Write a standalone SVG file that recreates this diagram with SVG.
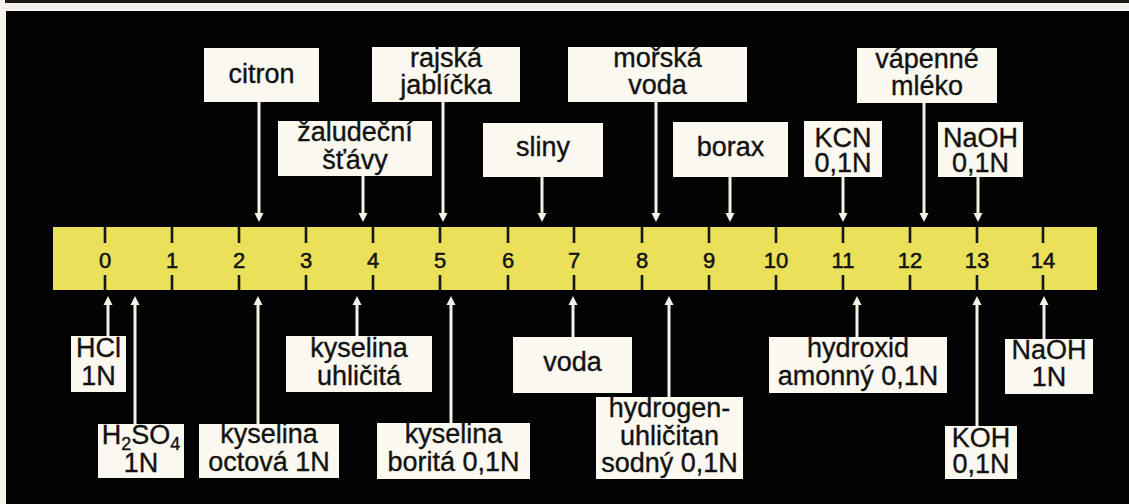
<svg xmlns="http://www.w3.org/2000/svg" width="1129" height="504" viewBox="0 0 1129 504">
  <style>
    .box { fill: #FBF8F0; }
    .lbl { font-family: "Liberation Sans", Arial, sans-serif; font-size: 27px; fill: #121212; stroke: #121212; stroke-width: 0.35; text-anchor: middle; }
    .num { font-family: "Liberation Sans", Arial, sans-serif; font-size: 22px; fill: #121212; stroke: #121212; stroke-width: 0.5; text-anchor: middle; }
    .tick { stroke: #151515; stroke-width: 2.6; }
    .arrow { stroke: #F4F0E6; stroke-width: 3; fill: none; marker-end: url(#head); }
    .sub { font-size: 18px; }
  </style>
  <defs>
    <marker id="head" viewBox="0 0 10 10" refX="2.2" refY="5" markerWidth="9" markerHeight="10" markerUnits="userSpaceOnUse" orient="auto">
      <path d="M0,0 L10,5 L0,10 z" fill="#F4F0E6"/>
    </marker>
  </defs>

  <!-- page frame -->
  <rect x="0" y="0" width="1129" height="504" fill="#F6F3EC"/>
  <rect x="5" y="0" width="1124" height="3" fill="#1A1A1A"/>
  <rect x="6" y="11" width="1123" height="493" fill="#030303"/>

  <!-- pH scale -->
  <g id="scale">
    <rect x="53" y="227" width="1044" height="63" fill="#EAE05A"/>
    <g class="tick">
      <path d="M105,227V243M105,275V290"/>
      <path d="M172,227V243M172,275V290"/>
      <path d="M239,227V243M239,275V290"/>
      <path d="M306,227V243M306,275V290"/>
      <path d="M373,227V243M373,275V290"/>
      <path d="M440,227V243M440,275V290"/>
      <path d="M508,227V243M508,275V290"/>
      <path d="M574,227V243M574,275V290"/>
      <path d="M642,227V243M642,275V290"/>
      <path d="M709,227V243M709,275V290"/>
      <path d="M776,227V243M776,275V290"/>
      <path d="M843,227V243M843,275V290"/>
      <path d="M910,227V243M910,275V290"/>
      <path d="M977,227V243M977,275V290"/>
      <path d="M1043,227V243M1043,275V290"/>
    </g>
    <g class="num">
      <text x="105" y="268">0</text>
      <text x="172" y="268">1</text>
      <text x="239" y="268">2</text>
      <text x="306" y="268">3</text>
      <text x="373" y="268">4</text>
      <text x="440" y="268">5</text>
      <text x="508" y="268">6</text>
      <text x="574" y="268">7</text>
      <text x="642" y="268">8</text>
      <text x="709" y="268">9</text>
      <text x="776" y="268">10</text>
      <text x="843" y="268">11</text>
      <text x="910" y="268">12</text>
      <text x="977" y="268">13</text>
      <text x="1043" y="268">14</text>
    </g>
  </g>

  <!-- connectors: labels pointing at the scale -->
  <g id="connectors">
    <path class="arrow" d="M259,102V215"/>
    <path class="arrow" d="M443,102V215"/>
    <path class="arrow" d="M656,102V215"/>
    <path class="arrow" d="M924,103V215"/>
    <path class="arrow" d="M363,176V215"/>
    <path class="arrow" d="M542,177V215"/>
    <path class="arrow" d="M730,177V215"/>
    <path class="arrow" d="M843,177V215"/>
    <path class="arrow" d="M978,177V215"/>

    <path class="arrow" d="M108,336V303"/>
    <path class="arrow" d="M135,424V303"/>
    <path class="arrow" d="M258,424V303"/>
    <path class="arrow" d="M357,336V303"/>
    <path class="arrow" d="M451,423V303"/>
    <path class="arrow" d="M573,337V303"/>
    <path class="arrow" d="M669,397V303"/>
    <path class="arrow" d="M857,337V303"/>
    <path class="arrow" d="M977,426V303"/>
    <path class="arrow" d="M1044,339V303"/>
  </g>

  <!-- labels above the scale -->
  <g id="citron">
    <rect class="box" x="204" y="48" width="115" height="54"/>
    <text class="lbl" x="261.5" y="83">citron</text>
  </g>
  <g id="rajska-jablicka">
    <rect class="box" x="372" y="47" width="148" height="55"/>
    <text class="lbl" x="446" y="67">rajská<tspan x="446" dy="27">jablíčka</tspan></text>
  </g>
  <g id="morska-voda">
    <rect class="box" x="568" y="47" width="179" height="55"/>
    <text class="lbl" x="657.5" y="67">mořská<tspan x="657.5" dy="27">voda</tspan></text>
  </g>
  <g id="vapenne-mleko">
    <rect class="box" x="857" y="48" width="140" height="55"/>
    <text class="lbl" x="927" y="68">vápenné<tspan x="927" dy="27">mléko</tspan></text>
  </g>
  <g id="zaludecni-stavy">
    <rect class="box" x="278" y="121" width="154" height="55"/>
    <text class="lbl" x="355" y="141">žaludeční<tspan x="355" dy="28">šťávy</tspan></text>
  </g>
  <g id="sliny">
    <rect class="box" x="483" y="123" width="120" height="54"/>
    <text class="lbl" x="543" y="156">sliny</text>
  </g>
  <g id="borax">
    <rect class="box" x="673" y="122" width="115" height="55"/>
    <text class="lbl" x="730.5" y="156">borax</text>
  </g>
  <g id="kcn">
    <rect class="box" x="804" y="121" width="78" height="56"/>
    <text class="lbl" x="843" y="147">KCN<tspan x="843" dy="25">0,1N</tspan></text>
  </g>
  <g id="naoh-01">
    <rect class="box" x="938" y="122" width="85" height="55"/>
    <text class="lbl" x="980.5" y="147">NaOH<tspan x="980.5" dy="25">0,1N</tspan></text>
  </g>

  <!-- labels below the scale -->
  <g id="hcl">
    <rect class="box" x="71" y="336" width="55" height="56"/>
    <text class="lbl" x="98.5" y="357">HCl<tspan x="98.5" dy="28">1N</tspan></text>
  </g>
  <g id="h2so4">
    <rect class="box" x="98" y="424" width="86" height="54"/>
    <text class="lbl" x="141" y="444">H<tspan class="sub" dy="6">2</tspan><tspan dy="-6">SO</tspan><tspan class="sub" dy="6">4</tspan><tspan x="141" dy="22">1N</tspan></text>
  </g>
  <g id="kyselina-octova">
    <rect class="box" x="199" y="424" width="140" height="54"/>
    <text class="lbl" x="269" y="443">kyselina<tspan x="269" dy="28">octová 1N</tspan></text>
  </g>
  <g id="kyselina-uhlicita">
    <rect class="box" x="286" y="336" width="146" height="56"/>
    <text class="lbl" x="359" y="357">kyselina<tspan x="359" dy="28">uhličitá</tspan></text>
  </g>
  <g id="kyselina-borita">
    <rect class="box" x="377" y="423" width="153" height="56"/>
    <text class="lbl" x="453.5" y="443">kyselina<tspan x="453.5" dy="28">boritá 0,1N</tspan></text>
  </g>
  <g id="voda">
    <rect class="box" x="513" y="337" width="119" height="56"/>
    <text class="lbl" x="572.5" y="371">voda</text>
  </g>
  <g id="hydrogenuhlicitan-sodny">
    <rect class="box" x="596" y="397" width="147" height="82"/>
    <text class="lbl" x="669.5" y="417">hydrogen-<tspan x="669.5" dy="28">uhličitan</tspan><tspan x="669.5" dy="27">sodný 0,1N</tspan></text>
  </g>
  <g id="hydroxid-amonny">
    <rect class="box" x="769" y="337" width="178" height="56"/>
    <text class="lbl" x="858" y="357">hydroxid<tspan x="858" dy="28">amonný 0,1N</tspan></text>
  </g>
  <g id="koh">
    <rect class="box" x="945" y="426" width="72" height="53"/>
    <text class="lbl" x="981" y="447">KOH<tspan x="981" dy="26">0,1N</tspan></text>
  </g>
  <g id="naoh-1">
    <rect class="box" x="1005" y="339" width="88" height="55"/>
    <text class="lbl" x="1049" y="359">NaOH<tspan x="1049" dy="27">1N</tspan></text>
  </g>
</svg>
